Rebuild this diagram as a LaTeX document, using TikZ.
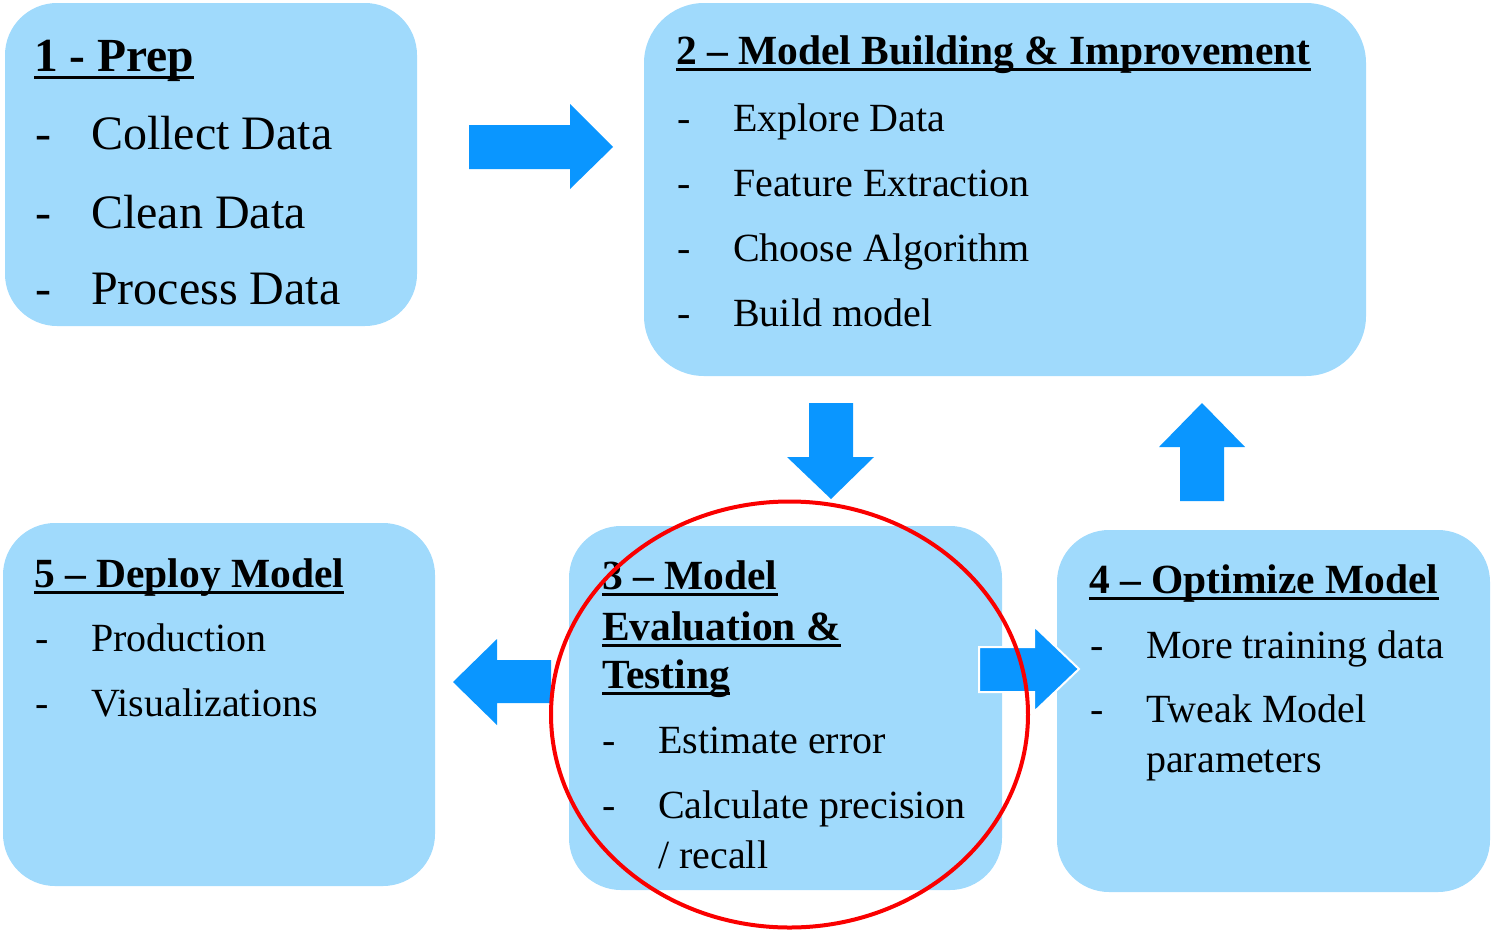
\documentclass[tikz,border=0pt]{standalone}
\usepackage{fontspec}
\setmainfont{Liberation Serif}
\definecolor{boxblue}{RGB}{160,218,252}
\definecolor{arrowblue}{RGB}{10,150,255}
\definecolor{ringred}{RGB}{250,0,0}
\tikzset{
  box/.style={fill=boxblue, draw=none, rounded corners=52pt, inner sep=0pt},
  blockarrow/.style={fill=arrowblue, draw=none},
  titletext/.style={anchor=base west, inner sep=0pt, font=\fontsize{41.5}{49}\selectfont\bfseries},
  bigtitle/.style={anchor=base west, inner sep=0pt, font=\fontsize{47.5}{56}\selectfont\bfseries},
  itemtext/.style={anchor=base west, inner sep=0pt, font=\fontsize{40}{48}\selectfont},
  bigitem/.style={anchor=base west, inner sep=0pt, font=\fontsize{48}{58}\selectfont},
  uline/.style={line width=3pt, black},
}
\begin{document}
\begin{tikzpicture}[x=1pt,y=-1pt]
\useasboundingbox (0,0) rectangle (1492,930);
% boxes
\fill[box] (5,3) rectangle (417,326);
\node[inner sep=0pt] (b1) at (211,164.5) {};
\fill[box,rounded corners=60pt] (644,3) rectangle (1366,376);
\node[inner sep=0pt] (b2) at (1005,189.5) {};
\fill[box] (3,523) rectangle (435,886);
\node[inner sep=0pt] (b5) at (219,704.5) {};
\fill[box] (569,526) rectangle (1002,890);
\node[inner sep=0pt] (b3) at (785.5,708) {};
\fill[box] (1057,530) rectangle (1490,892);
\node[inner sep=0pt] (b4) at (1273.5,711) {};
% block arrows
\fill[blockarrow] (469,125) -- (570,125) -- (570,104) -- (613,147) -- (570,189) -- (570,169) -- (469,169) -- cycle;
\fill[blockarrow] (809,403) -- (853,403) -- (853,457) -- (874,457) -- (831,499) -- (787,457) -- (809,457) -- cycle;
\fill[blockarrow] (1180,501) -- (1224,501) -- (1224,447) -- (1245,447) -- (1202,403) -- (1159,447) -- (1180,447) -- cycle;
\fill[blockarrow] (551,660) -- (497,660) -- (497,639) -- (453,682) -- (497,725) -- (497,703) -- (551,703) -- cycle;
\filldraw[blockarrow, draw=white, line width=2pt] (979,647) -- (1034,647) -- (1034,626) -- (1079,669) -- (1034,712) -- (1034,692) -- (979,692) -- cycle;
% box 1
\node[bigtitle] (t1) at (34,71) {1 - Prep};
\draw[uline] ([yshift=-6pt]t1.base west) -- ([yshift=-6pt]t1.base east);
\node[bigitem] (d11) at (35,149) {-};
\node[bigitem] (i11) at (91,149) {Collect Data};
\node[bigitem] (d12) at (35,228) {-};
\node[bigitem] (i12) at (91,228) {Clean Data};
\node[bigitem] (d13) at (35,304) {-};
\node[bigitem] (i13) at (91,304) {Process Data};
% box 2
\node[titletext] (t2) at (676,64) {2 – Model Building \& Improvement};
\draw[uline] ([yshift=-5pt]t2.base west) -- ([yshift=-5pt]t2.base east);
\node[itemtext] (d21) at (677,131) {-};
\node[itemtext] (i21) at (733,131) {Explore Data};
\node[itemtext] (d22) at (677,196) {-};
\node[itemtext] (i22) at (733,196) {Feature Extraction};
\node[itemtext] (d23) at (677,261) {-};
\node[itemtext] (i23) at (733,261) {Choose Algorithm};
\node[itemtext] (d24) at (677,326) {-};
\node[itemtext] (i24) at (733,326) {Build model};
% box 5
\node[titletext] (t5) at (34,587) {5 – Deploy Model};
\draw[uline] ([yshift=-5pt]t5.base west) -- ([yshift=-5pt]t5.base east);
\node[itemtext] (d51) at (35,651) {-};
\node[itemtext] (i51) at (91,651) {Production};
\node[itemtext] (d52) at (35,716) {-};
\node[itemtext] (i52) at (91,716) {Visualizations};
% box 3
\node[titletext] (t3a) at (602,589) {3 – Model};
\draw[uline] ([yshift=-5pt]t3a.base west) -- ([yshift=-5pt]t3a.base east);
\node[titletext] (t3b) at (602,640) {Evaluation \&};
\draw[uline] ([yshift=-5pt]t3b.base west) -- ([yshift=-5pt]t3b.base east);
\node[titletext] (t3c) at (602,688) {Testing};
\draw[uline] ([yshift=-5pt]t3c.base west) -- ([yshift=-5pt]t3c.base east);
\node[itemtext] (d31) at (602,753) {-};
\node[itemtext] (i31) at (658,753) {Estimate error};
\node[itemtext] (d32) at (602,818) {-};
\node[itemtext] (i32) at (658,818) {Calculate precision};
\node[itemtext] (i33) at (658,868) {/ recall};
% box 4
\node[titletext] (t4) at (1089,593) {4 – Optimize Model};
\draw[uline] ([yshift=-5pt]t4.base west) -- ([yshift=-5pt]t4.base east);
\node[itemtext] (d41) at (1090,658) {-};
\node[itemtext] (i41) at (1146,658) {More training data};
\node[itemtext] (d42) at (1090,722) {-};
\node[itemtext] (i42) at (1146,722) {Tweak Model};
\node[itemtext] (i43) at (1146,772) {parameters};
% red ring
\draw[ringred, line width=4pt] (789.5,714.5) ellipse [x radius=238.5pt, y radius=213pt];
\end{tikzpicture}
\end{document}
